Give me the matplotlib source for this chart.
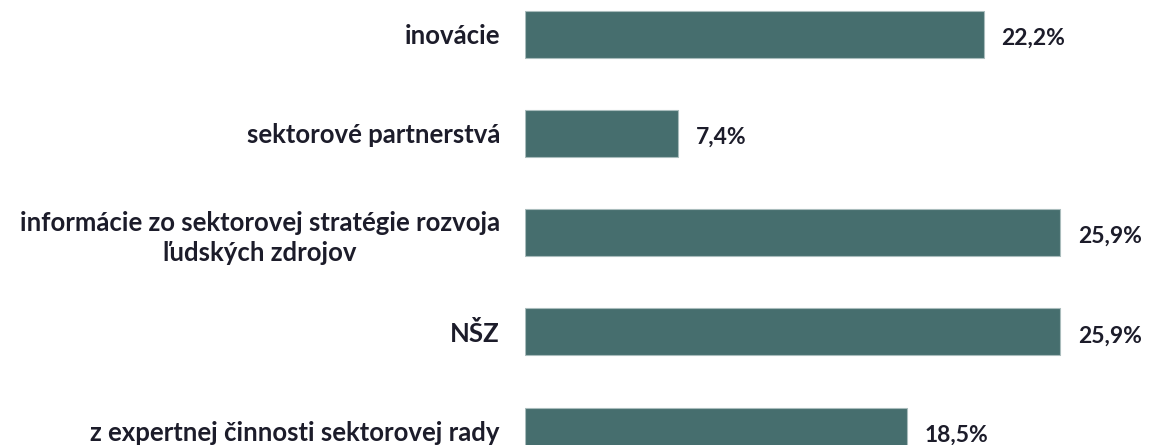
import matplotlib.pyplot as plt

# Data
categories = ['inovácie', 'sektorové partnerstvá',
              'informácie zo sektorovej stratégie rozvoja\nľudských zdrojov',
              'NŠZ', 'z expertnej činnosti sektorovej rady']
values = [22.2, 7.4, 25.9, 25.9, 18.5]
value_labels = ['22,2%', '7,4%', '25,9%', '25,9%', '18,5%']

plt.rcParams['font.family'] = ['Lato', 'DejaVu Sans']

fig = plt.figure(figsize=(11.49, 4.45), dpi=100)
# axes placed so bars line up with the original picture (last bar cut off)
ax = fig.add_axes([525 / 1149, 1 - 480.6 / 445, 620 / 1149, 496 / 445])

y = list(range(len(categories)))
ax.barh(y, values, height=0.47, color='#466e6e', edgecolor='#a9bcbc', linewidth=0.8)

for yi, v, lab in zip(y, values, value_labels):
    ax.text(v + 0.85, yi + 0.04, lab, va='center', ha='left', fontsize=16.5,
            fontweight='bold', color='#1c1c2a')

ax.set_yticks(y)
ax.set_yticklabels(categories, fontsize=18.5, fontweight='bold', color='#1c1c2a',
                   ha='right', multialignment='center', linespacing=1.3)
ax.tick_params(axis='y', length=0, pad=18)
ax.set_xticks([])
ax.set_xlim(0, 30)
ax.set_ylim(4.5, -0.5)
for s in ax.spines.values():
    s.set_visible(False)

fig.savefig('out.png', dpi=100)
